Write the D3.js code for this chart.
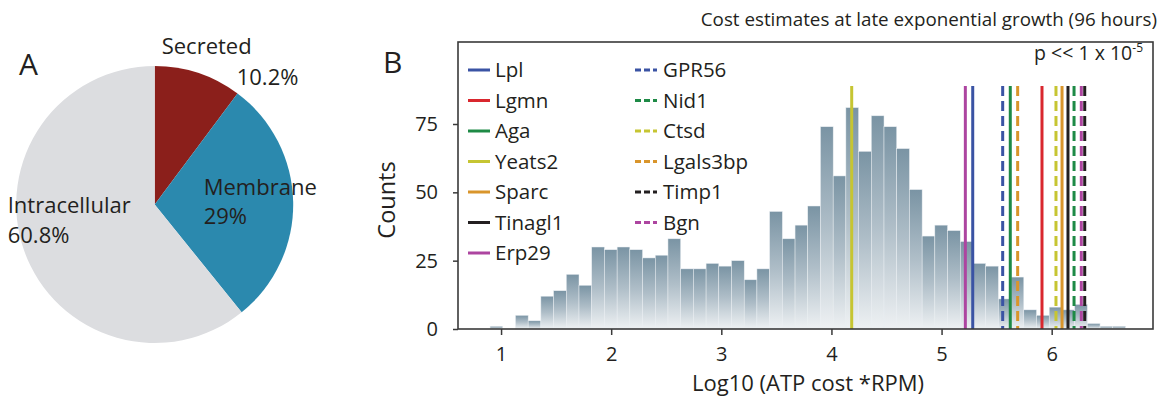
<!DOCTYPE html>
<html>
<head>
<meta charset="utf-8">
<script src="https://cdn.jsdelivr.net/npm/d3@7"></script>
<style>
  html, body { margin: 0; padding: 0; background: #fff; }
  svg { display: block; }
  text { font-family: "Open Sans", "Noto Sans", sans-serif; fill: #231f20; }
</style>
</head>
<body>
<svg id="chart" width="1159" height="398"></svg>
<script>
// ---------------- DATA ----------------
const pieCategories = ["Secreted", "Membrane", "Intracellular"];
const pieValues = [10.2, 29, 60.8];
const pieColors = ["#8b1f1b", "#2b89ae", "#dcdde0"];

const binStart = 0.9;
const binWidth = 0.1154;
const binCounts = [1, 0, 5, 3, 12, 14, 20, 16, 30, 29,
                   30, 29, 26, 27, 33, 22, 22, 24, 23, 25,
                   18, 22, 43, 33, 38, 45, 74, 56, 81, 65,
                   78, 74, 66, 51, 34, 38, 36, 32, 24, 23,
                   11, 19, 7, 5, 8, 7, 9, 2, 1, 1];

const geneNames  = ["Yeats2", "Erp29", "Lpl", "GPR56", "Aga", "Lgals3bp", "Lgmn", "Ctsd", "Sparc", "Tinagl1", "Nid1", "Bgn", "Timp1"];
const geneValues = [4.184, 5.216, 5.283, 5.555, 5.624, 5.691, 5.912, 6.039, 6.094, 6.148, 6.203, 6.269, 6.30];

const legendSolid  = ["Lpl", "Lgmn", "Aga", "Yeats2", "Sparc", "Tinagl1", "Erp29"];
const legendDashed = ["GPR56", "Nid1", "Ctsd", "Lgals3bp", "Timp1", "Bgn"];

const geneColors = {
  Lpl: "#3a53a4", Lgmn: "#d9272e", Aga: "#1e8a46", Yeats2: "#c6c532",
  Sparc: "#d9952b", Tinagl1: "#231f20", Erp29: "#ad45a0",
  GPR56: "#3a53a4", Nid1: "#1e8a46", Ctsd: "#c6c532", Lgals3bp: "#d9952b",
  Timp1: "#231f20", Bgn: "#ad45a0"
};

const xTicks = [1, 2, 3, 4, 5, 6];
const yTicks = [0, 25, 50, 75];

const title = "Cost estimates at late exponential growth (96 hours)";
const xLabel = "Log10 (ATP cost *RPM)";
const yLabel = "Counts";

// ---------------- DRAW ----------------
(function () {
const svg = d3.select("#chart");
svg.append("rect").attr("width", 1159).attr("height", 398).attr("fill", "#fff");

// ===== Panel A: pie =====
const pieCx = 154.7, pieCy = 204.5, pieR = 138.5;
const pie = d3.pie().sort(null).value(d => d)(pieValues);
const arc = d3.arc().innerRadius(0).outerRadius(pieR);
const gPie = svg.append("g").attr("transform", `translate(${pieCx},${pieCy})`);
gPie.selectAll("path").data(pie).join("path")
  .attr("d", arc)
  .attr("fill", (d, i) => pieColors[i]);

svg.append("text").attr("x", 19).attr("y", 75).attr("font-size", 30).text("A");

const pieLabelPos = [
  { name: [7, -151], pct: [82, -120] },
  { name: [49, -10], pct: [49, 19] },
  { name: [-147, 8], pct: [-147, 38] }
];
pieCategories.forEach((c, i) => {
  const p = pieLabelPos[i];
  gPie.append("text").attr("x", p.name[0]).attr("y", p.name[1]).attr("font-size", 22).text(c);
  gPie.append("text").attr("x", p.pct[0]).attr("y", p.pct[1]).attr("font-size", 22).text(pieValues[i] + "%");
});

// ===== Panel B: histogram =====
const pL = 458, pR = 1153, pT = 42, pB = 329;
const x = d3.scaleLinear().domain([0.609, 6.92]).range([pL, pR]);
const y = d3.scaleLinear().domain([0, 105]).range([pB, pT]);

const defs = svg.append("defs");
const grad = defs.append("linearGradient").attr("id", "barGrad")
  .attr("x1", 0).attr("y1", 0).attr("x2", 0).attr("y2", 1);
grad.append("stop").attr("offset", "0%").attr("stop-color", "#7a94a4");
grad.append("stop").attr("offset", "50%").attr("stop-color", "#afbec8");
grad.append("stop").attr("offset", "100%").attr("stop-color", "#eef1f3");

const bins = binCounts.map((c, i) => ({ x0: binStart + i * binWidth, x1: binStart + (i + 1) * binWidth, count: c }));

svg.append("g").selectAll("rect").data(bins.filter(b => b.count > 0)).join("rect")
  .attr("x", d => x(d.x0))
  .attr("width", d => x(d.x1) - x(d.x0))
  .attr("y", d => y(d.count))
  .attr("height", d => y(0) - y(d.count))
  .attr("fill", "url(#barGrad)")
  .attr("stroke", "#e9eef1")
  .attr("stroke-width", 0.5);

// gene lines
const lineTop = 86;
const gLines = svg.append("g");
geneNames.forEach((g, i) => {
  const dashed = legendDashed.includes(g);
  gLines.append("line")
    .attr("x1", x(geneValues[i])).attr("x2", x(geneValues[i]))
    .attr("y1", lineTop).attr("y2", pB)
    .attr("stroke", geneColors[g])
    .attr("stroke-width", 3)
    .attr("stroke-dasharray", dashed ? "10,5" : null);
});

// frame
svg.append("rect").attr("x", pL).attr("y", pT)
  .attr("width", pR - pL).attr("height", pB - pT)
  .attr("fill", "none").attr("stroke", "#3a3a3a").attr("stroke-width", 1.6);

// axes
const xAxis = svg.append("g").attr("transform", `translate(0,${pB})`)
  .call(d3.axisBottom(x).tickValues(xTicks).tickSize(6).tickPadding(12).tickFormat(d3.format("d")));
const yAxis = svg.append("g").attr("transform", `translate(${pL},0)`)
  .call(d3.axisLeft(y).tickValues(yTicks).tickSize(5).tickPadding(15).tickFormat(d3.format("d")));
[xAxis, yAxis].forEach(a => {
  a.select(".domain").remove();
  a.selectAll(".tick line").attr("stroke", "#3a3a3a").attr("stroke-width", 1.5);
  a.selectAll(".tick text").attr("font-size", 20).attr("fill", "#231f20")
    .style("font-family", '"Open Sans", sans-serif');
});

svg.append("text").attr("x", 808).attr("y", 391).attr("text-anchor", "middle")
  .attr("font-size", 22).text(xLabel);
svg.append("text").attr("transform", "translate(395,200) rotate(-90)")
  .attr("text-anchor", "middle").attr("font-size", 23.5).text(yLabel);

svg.append("text").attr("x", 383).attr("y", 73).attr("font-size", 30).text("B");

svg.append("text").attr("x", 1157).attr("y", 26).attr("text-anchor", "end")
  .attr("font-size", 18.8).text(title);

const pText = svg.append("text").attr("x", 1143).attr("y", 60).attr("text-anchor", "end").attr("font-size", 19.5);
pText.append("tspan").text("p << 1 x 10");
pText.append("tspan").attr("font-size", 12).attr("dy", -8).text("-5");

// legend
const legRow = 30.5, legY0 = 70;
const legCols = [
  { items: legendSolid, lx: 468, tx: 495, dashed: false },
  { items: legendDashed, lx: 635, tx: 663, dashed: true }
];
legCols.forEach(col => {
  col.items.forEach((g, i) => {
    const yy = legY0 + i * legRow;
    svg.append("line").attr("x1", col.lx).attr("x2", col.lx + 22)
      .attr("y1", yy).attr("y2", yy)
      .attr("stroke", geneColors[g]).attr("stroke-width", 3)
      .attr("stroke-dasharray", col.dashed ? "6,3" : null);
    svg.append("text").attr("x", col.tx).attr("y", yy).attr("dy", "0.36em")
      .attr("font-size", 20.5).text(g);
  });
});
})();
</script>
</body>
</html>
